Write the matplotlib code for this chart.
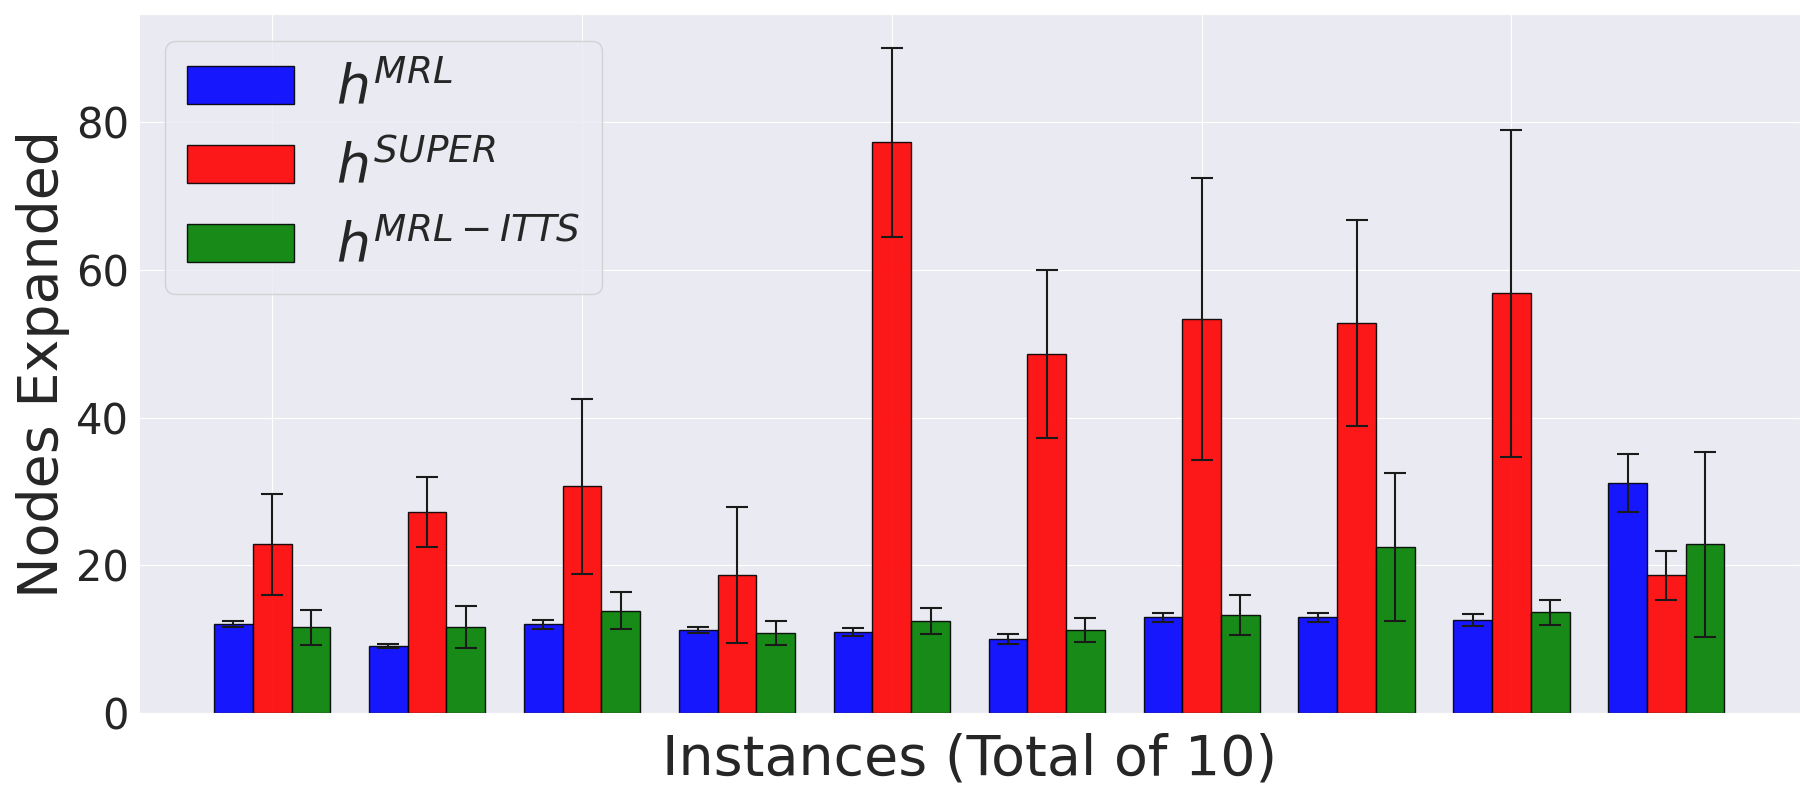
import numpy as np
import matplotlib
matplotlib.use("Agg")
import matplotlib.pyplot as plt
import seaborn as sns

sns.set_style("darkgrid")
plt.rcParams['font.family'] = ['DejaVu Sans']

# mean nodes expanded per instance, and the error bar half-widths
mrl = [12.0, 9.05, 12.0, 11.2, 10.95, 10.0, 12.95, 12.95, 12.55, 31.1]
mrl_err = [0.4, 0.3, 0.6, 0.4, 0.6, 0.67, 0.6, 0.6, 0.8, 3.9]
sup = [22.8, 27.2, 30.7, 18.7, 77.3, 48.6, 53.4, 52.8, 56.8, 18.6]
sup_err = [6.85, 4.75, 11.85, 9.2, 12.8, 11.4, 19.1, 14.0, 22.1, 3.36]
itts = [11.6, 11.6, 13.8, 10.8, 12.4, 11.2, 13.2, 22.5, 13.6, 22.8]
itts_err = [2.35, 2.8, 2.5, 1.6, 1.75, 1.6, 2.7, 10.0, 1.65, 12.55]
labels = [r'$h^{MRL}$', r'$h^{SUPER}$', r'$h^{MRL-ITTS}$']

x = np.arange(len(mrl))
w = 0.25

fig, ax = plt.subplots(figsize=(18, 8), dpi=100)
ekw = dict(ecolor='0.1', elinewidth=1.5, capsize=8, capthick=1.5)
ax.bar(x - w, mrl, w, yerr=mrl_err, color='blue', alpha=0.9,
       edgecolor='black', linewidth=1, error_kw=ekw, label=labels[0])
ax.bar(x, sup, w, yerr=sup_err, color='red', alpha=0.9,
       edgecolor='black', linewidth=1, error_kw=ekw, label=labels[1])
ax.bar(x + w, itts, w, yerr=itts_err, color='green', alpha=0.9,
       edgecolor='black', linewidth=1, error_kw=ekw, label=labels[2])

ax.tick_params(labelbottom=False, labelsize=30)
ax.set_yticks([0, 20, 40, 60, 80])
ax.set_xlabel('Instances (Total of 10)', fontsize=40, labelpad=14)
ax.set_ylabel('Nodes Expanded', fontsize=40)
ax.legend(loc='upper left', fontsize=38.5, frameon=True)

plt.subplots_adjust(left=0.077, right=1.0, bottom=0.109, top=0.982)
plt.savefig('out.png', dpi=100)
